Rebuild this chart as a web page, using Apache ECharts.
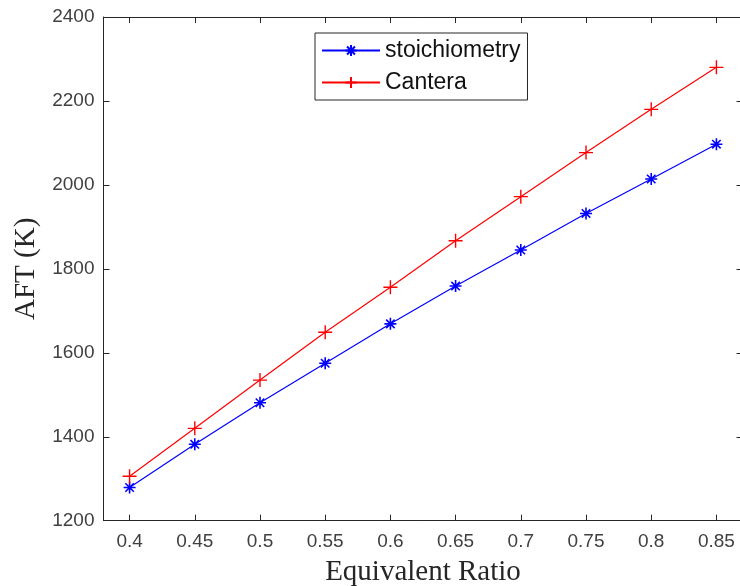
<!DOCTYPE html>
<html>
<head>
<meta charset="utf-8">
<script src="https://cdn.jsdelivr.net/npm/echarts@6/dist/echarts.min.js"></script>
<style>
  html, body { margin: 0; padding: 0; background: #fff; }
  #chart { width: 740px; height: 586px; }
</style>
</head>
<body>
<div id="chart"></div>
<script>
// Equivalence ratio values and adiabatic flame temperatures (K)
const ratios = [0.4, 0.45, 0.5, 0.55, 0.6, 0.65, 0.7, 0.75, 0.8, 0.85];
const stoichiometry = [1279, 1382, 1481, 1575, 1669, 1759, 1845, 1932, 2014, 2097];
const cantera = [1306, 1420, 1535, 1649, 1756, 1867, 1972, 2077, 2180, 2280];
const xTicks = [0.4, 0.45, 0.5, 0.55, 0.6, 0.65, 0.7, 0.75, 0.8, 0.85];

const axisColor = '#262626';
const labelColor = '#404040';
const sansFont = 'Liberation Sans, Arial, sans-serif';
const serifFont = 'Liberation Serif, Times New Roman, serif';

// Stroke-only marker shapes
const asteriskPath = 'path://M0,-10L0,10M-10,0L10,0M-7.07,-7.07L7.07,7.07M-7.07,7.07L7.07,-7.07';
const plusPath = 'path://M0,-10L0,10M-10,0L10,0';

const chart = echarts.init(document.getElementById('chart'), null, { renderer: 'canvas' });

const boxAxisBase = {
  type: 'value',
  min: 0.38,
  max: 0.87,
  axisLine: { show: true, lineStyle: { color: axisColor, width: 1 } },
  splitLine: { show: false }
};

chart.setOption({
  animation: false,
  backgroundColor: '#fff',
  grid: {
    left: 103.5, top: 17, width: 639, height: 503.7,
    containLabel: false, outerBoundsMode: 'none'
  },
  legend: {
    orient: 'vertical',
    left: 315,
    top: 33,
    padding: [6, 7, 6, 6],
    itemGap: 9,
    itemWidth: 58,
    itemHeight: 14,
    backgroundColor: '#fff',
    borderColor: axisColor,
    borderWidth: 1,
    textStyle: { fontFamily: sansFont, fontSize: 23, color: '#111' },
    data: ['stoichiometry', 'Cantera']
  },
  xAxis: [
    Object.assign({}, boxAxisBase, {
      position: 'bottom',
      name: 'Equivalent Ratio',
      nameLocation: 'middle',
      nameGap: 37,
      nameTextStyle: { fontFamily: serifFont, fontSize: 29, color: axisColor },
      axisTick: { show: true, inside: true, length: 6, customValues: xTicks, lineStyle: { color: axisColor } },
      axisLabel: {
        show: true, customValues: xTicks, margin: 12,
        fontFamily: sansFont, fontSize: 19, color: labelColor
      }
    }),
    Object.assign({}, boxAxisBase, {
      position: 'top',
      axisTick: { show: true, inside: true, length: 6, customValues: xTicks, lineStyle: { color: axisColor } },
      axisLabel: { show: false }
    })
  ],
  yAxis: [
    {
      type: 'value',
      min: 1200,
      max: 2400,
      interval: 200,
      position: 'left',
      name: 'AFT (K)',
      nameLocation: 'middle',
      nameGap: 55,
      nameTextStyle: { fontFamily: serifFont, fontSize: 29, color: axisColor },
      axisLine: { show: true, lineStyle: { color: axisColor, width: 1 } },
      axisTick: { show: true, inside: true, length: 6, lineStyle: { color: axisColor } },
      axisLabel: {
        margin: 9, fontFamily: sansFont, fontSize: 19, color: labelColor,
        formatter: (v) => String(v)
      },
      splitLine: { show: false }
    },
    {
      type: 'value',
      min: 1200,
      max: 2400,
      interval: 200,
      position: 'right',
      axisLine: { show: false },
      axisTick: { show: true, inside: true, length: 6, lineStyle: { color: axisColor } },
      axisLabel: { show: false },
      splitLine: { show: false }
    }
  ],
  series: [
    {
      name: 'stoichiometry',
      type: 'line',
      xAxisIndex: 0,
      yAxisIndex: 0,
      data: ratios.map((r, i) => [r, stoichiometry[i]]),
      symbol: asteriskPath,
      symbolSize: 12,
      showAllSymbol: true,
      lineStyle: { color: '#0000ff', width: 1.2 },
      itemStyle: { color: 'rgba(0,0,0,0)', borderColor: '#0000ff', borderWidth: 1.6 },
      emphasis: { disabled: true },
      z: 3
    },
    {
      name: 'Cantera',
      type: 'line',
      xAxisIndex: 0,
      yAxisIndex: 0,
      data: ratios.map((r, i) => [r, cantera[i]]),
      symbol: plusPath,
      symbolSize: 14,
      showAllSymbol: true,
      lineStyle: { color: '#ff0000', width: 1.2 },
      itemStyle: { color: 'rgba(0,0,0,0)', borderColor: '#ff0000', borderWidth: 1.4 },
      emphasis: { disabled: true },
      z: 3
    }
  ]
});
</script>
</body>
</html>
